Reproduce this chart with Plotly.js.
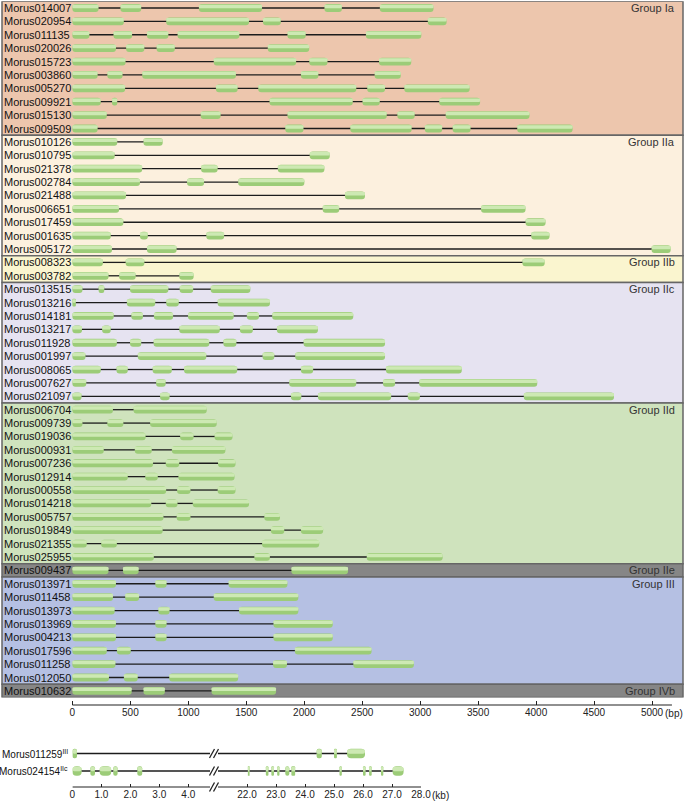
<!DOCTYPE html>
<html><head><meta charset="utf-8">
<script src="https://cdn.plot.ly/plotly-3.0.1.min.js"></script>
<style>html,body{margin:0;padding:0;background:#fff;}#chart{width:685px;height:803px;}</style>
</head><body><div id="chart"></div>
<script>
// ---------- DATA ----------
const geneNames = [
 "Morus014007","Morus020954","Morus011135","Morus020026","Morus015723","Morus003860","Morus005270","Morus009921","Morus015130","Morus009509",
 "Morus010126","Morus010795","Morus021378","Morus002784","Morus021488","Morus006651","Morus017459","Morus001635","Morus005172",
 "Morus008323","Morus003782",
 "Morus013515","Morus013216","Morus014181","Morus013217","Morus011928","Morus001997","Morus008065","Morus007627","Morus021097",
 "Morus006704","Morus009739","Morus019036","Morus000931","Morus007236","Morus012914","Morus000558","Morus014218","Morus005757","Morus019849","Morus021355","Morus025955",
 "Morus009437",
 "Morus013971","Morus011458","Morus013973","Morus013969","Morus004213","Morus017596","Morus011258","Morus012050",
 "Morus010632"
];
const groupNames = ["Group Ia","Group IIa","Group IIb","Group IIc","Group IId","Group IIe","Group III","Group IVb"];
const groupSizes = [10,9,2,9,12,1,8,1];
// exon [start, end] in bp for each gene (introns join them)
const exons = [
 [[0,226],[414,594],[1091,1636],[2174,2325],[2652,3115]],
 [[0,444],[809,1524],[1644,1798],[3066,3228]],
 [[0,147],[354,515],[643,828],[907,1441],[1855,2013],[2532,3010]],
 [[0,376],[463,621],[726,884],[1685,2043]],
 [[0,459],[1219,1930],[2043,2201],[2645,2923]],
 [[0,218],[301,433],[602,1411],[1971,2122],[2607,2833]],
 [[0,455],[1238,1426],[1603,2449],[2543,2697],[2863,3427]],
 [[0,245],[342,387],[1700,2419],[2502,2652],[3164,3517]],
 [[0,297],[1106,1279],[1855,2712],[2803,2953],[3220,3943]],
 [[0,218],[1836,1994],[2397,2927],[3040,3190],[3280,3435],[3837,4315]],
 [[0,387],[613,779]],
 [[0,365],[2047,2220]],
 [[0,602],[1110,1253],[1772,2174]],
 [[0,583],[989,1136],[1430,2001]],
 [[0,463],[2351,2524]],
 [[0,403],[2159,2302],[3525,3909]],
 [[0,440],[3909,4082]],
 [[0,331],[583,651],[1155,1309],[3958,4116]],
 [[0,342],[643,899],[4996,5161]],
 [[0,263],[459,621],[3882,4074]],
 [[0,312],[403,546],[922,1046]],
 [[0,87],[226,275],[497,828],[925,1042],[1193,1535]],
 [[0,30],[470,715],[809,918],[1253,1704]],
 [[0,357],[508,609],[703,869],[997,1392],[1505,1610],[1723,2423]],
 [[0,83],[256,331],[922,1272],[1445,1557],[1764,2118]],
 [[0,384],[497,594],[700,1181],[1302,1415],[1994,2697]],
 [[0,113],[564,1155],[1640,1742],[1922,2697]],
 [[0,245],[380,478],[692,858],[963,1422],[1971,2077],[2705,3359]],
 [[0,120],[722,805],[1870,2449],[2679,2784],[2991,4010]],
 [[0,79],[756,839],[1885,1975],[2118,2750],[2893,2998],[3894,4672]],
 [[0,350],[527,1159]],
 [[0,87],[301,440],[670,1245]],
 [[0,632],[929,1046],[1226,1381]],
 [[0,271],[538,685],[858,1320]],
 [[0,696],[805,922],[1256,1407]],
 [[0,478],[628,737],[914,1399]],
 [[0,809],[903,1019],[1253,1407]],
 [[0,681],[805,907],[1038,1524]],
 [[0,786],[899,1019],[1655,1791]],
 [[0,779],[1712,1828],[1971,2163]],
 [[0,124],[248,384],[1636,2129]],
 [[0,703],[1569,1704],[2539,3194]],
 [[0,312],[436,572],[1889,2378]],
 [[0,376],[715,813],[1347,1855]],
 [[0,350],[455,576],[1219,1949]],
 [[0,365],[741,839],[1437,1949]],
 [[0,376],[715,813],[1734,2246]],
 [[0,376],[715,813],[1734,2246]],
 [[0,297],[384,504],[1919,2581]],
 [[0,372],[1731,1851],[2423,2946]],
 [[0,316],[444,564],[835,1430]],
 [[0,512],[613,798],[1200,1757]]
];
const bpTicks = [0,500,1000,1500,2000,2500,3000,3500,4000,4500,5000];
const bpTickLabels = ["0","500","1000","1500","2000","2500","3000","3500","4000","4500","5000"];

// long genes (kb), drawn with a broken axis
const longGenes = ["Morus011259<sup>III</sup>","Morus024154<sup>IIc</sup>"];
const longExonsLeft = [
 [[0,0.16]],
 [[0,0.32],[0.62,0.78],[0.94,1.34],[1.41,1.56],[2.24,2.41]]
];
const longExonsRight = [
 [[24.40,24.58],[25.00,25.10],[25.45,26.07]],
 [[22.03,22.09],[22.65,22.74],[22.84,22.93],[23.04,23.12],[23.32,23.46],[23.53,23.66],[25.19,25.27],[26.00,26.09],[26.21,26.30],[26.62,26.70],[27.02,27.40]]
];
const kbTicksLeft = [0,1,2,3,4];
const kbTickLabelsLeft = ["0","1.0","2.0","3.0","4.0"];
const kbTicksRight = [22,23,24,25,26,27,28];
const kbTickLabelsRight = ["22.0","23.0","24.0","25.0","26.0","27.0","28.0"];

// ---------- STYLE ----------
const W = 685, H = 803;
const FONT = "Liberation Sans, Arial, Helvetica, sans-serif";
const groupFill = ["#edc6ad","#fcf0de","#faf5cf","#e6e3f1","#cfe3bd","#868686","#b5c0e3","#868686"];
const exonBase = "#9ccc78", exonHi = "#cde9b3", intronColor = "#1c1c1c";
const px = p => p / W;
const py = p => 1 - p / H;

// main panel geometry
const rowTop = 1.3, rowPitch = 13.39, nRows = geneNames.length;
const mainLeft = 2, mainRight = 683, zeroPx = 72.4, fivePx = 652;
const bpPerPx = 5000 / (fivePx - zeroPx);
const xMin = -(zeroPx - mainLeft) * bpPerPx, xMax = 5000 + (mainRight - fivePx) * bpPerPx;

const traces = [];
// introns: segments between consecutive exons
function intronTrace(list, xa, ya) {
  const x = [], y = [];
  list.forEach((ex, i) => { for (let k = 0; k + 1 < ex.length; k++) { x.push(ex[k][1], ex[k+1][0], null); y.push(i, i, null); } });
  return {type:'scatter', mode:'lines', x:x, y:y, line:{color:intronColor, width:1.3}, hoverinfo:'skip', xaxis:xa, yaxis:ya};
}
traces.push(intronTrace(exons, 'x', 'y'));
// exons
function exonBars(list, xa, ya, w, r) {
  const y = [], b = [], l = [];
  list.forEach((ex, i) => ex.forEach(e => { y.push(i); b.push(e[0]); l.push(e[1]-e[0]); }));
  traces.push({type:'bar', orientation:'h', y:y, base:b, x:l, width:w, offset:-w/2,
    marker:{color:exonBase, line:{width:0}, cornerradius:r}, xaxis:xa, yaxis:ya});
  traces.push({type:'bar', orientation:'h', y:y, base:b, x:l, width:w*0.45, offset:-w/2 + w*0.07,
    marker:{color:exonHi, line:{width:0}, cornerradius:Math.max(1, r-1)}, xaxis:xa, yaxis:ya});
}
exonBars(exons, 'x', 'y', 0.58, 3);

// long genes panel: the intron line runs to / from the axis break
const lx = [], ly = [], rx = [], ry = [];
longExonsLeft.forEach((ex, i) => { lx.push(ex[ex.length-1][1], 4.75, null); ly.push(i, i, null); });
longExonsRight.forEach((ex, i) => { rx.push(21, ex[0][0], null); ry.push(i, i, null); });
traces.push(intronTrace(longExonsLeft, 'x3', 'y3'));
traces.push(intronTrace(longExonsRight, 'x4', 'y4'));
traces.push({type:'scatter', mode:'lines', x:lx, y:ly, line:{color:intronColor, width:1.3}, xaxis:'x3', yaxis:'y3'});
traces.push({type:'scatter', mode:'lines', x:rx, y:ry, line:{color:intronColor, width:1.3}, xaxis:'x4', yaxis:'y4'});
exonBars(longExonsLeft, 'x3', 'y3', 0.55, 5);
exonBars(longExonsRight, 'x4', 'y4', 0.55, 5);

// shapes: group backgrounds
const shapes = [];
let start = 0;
const groupStarts = [];
groupSizes.forEach((n, g) => {
  groupStarts.push(start);
  shapes.push({type:'rect', layer:'below', xref:'paper', yref:'y', x0:px(mainLeft), x1:px(mainRight),
    y0:start-0.5, y1:start+n-0.5, fillcolor:groupFill[g], line:{color:'#666666', width:1.5}});
  start += n;
});
// axis lines
const axY = 705, kbAxY = 787;
shapes.push({type:'line', xref:'x', yref:'paper', x0:0, x1:5172, y0:py(axY), y1:py(axY), line:{color:'#222', width:1.2}});
shapes.push({type:'line', xref:'x3', yref:'paper', x0:0, x1:4.75, y0:py(kbAxY), y1:py(kbAxY), line:{color:'#222', width:1.2}});
shapes.push({type:'line', xref:'x4', yref:'paper', x0:21, x1:28, y0:py(kbAxY), y1:py(kbAxY), line:{color:'#222', width:1.2}});
// break marks "//"
[753.5, 771, kbAxY].forEach(yy => {
  [-2, 2].forEach(d => shapes.push({type:'line', xref:'paper', yref:'paper',
    x0:px(214 + d - 2.5), x1:px(214 + d + 2.5), y0:py(yy + 4.5), y1:py(yy - 4.5), line:{color:'#222', width:1.3}}));
});

// annotations
const ann = [];
geneNames.forEach((n, i) => ann.push({xref:'paper', yref:'y', x:px(1.5), y:i, xanchor:'left', yanchor:'middle',
  text:n, showarrow:false, font:{family:FONT, size:11, color:'#111'}}));
groupNames.forEach((n, g) => ann.push({xref:'paper', yref:'y', x:px(677), y:groupStarts[g], xanchor:'right', yanchor:'middle',
  text:n, showarrow:false, font:{family:FONT, size:11, color:'#333'}}));
ann.push({xref:'x', yref:'paper', x:5000, y:py(713), xanchor:'left', yanchor:'middle', xshift:11, text:'(bp)', showarrow:false,
  font:{family:FONT, size:10, color:'#222'}});
longGenes.forEach((n, i) => ann.push({xref:'paper', yref:'y3', x:px(70), y:i, xanchor:'right', yanchor:'middle',
  text:n, showarrow:false, font:{family:FONT, size:10, color:'#111'}}));
ann.push({xref:'x4', yref:'paper', x:28, y:py(795), xanchor:'left', yanchor:'middle', xshift:9, text:'(kb)', showarrow:false,
  font:{family:FONT, size:10, color:'#222'}});

const hidden = {showgrid:false, zeroline:false, showline:false, showticklabels:false, ticks:'', fixedrange:true};
const tickStyle = {showgrid:false, zeroline:false, showline:false, ticks:'inside', ticklen:4, tickwidth:1, tickcolor:'#222',
  tickfont:{family:FONT, size:10, color:'#222'}, fixedrange:true, tickmode:'array'};

const layout = {
  width:W, height:H, margin:{l:0, r:0, t:0, b:0}, paper_bgcolor:'#fff', plot_bgcolor:'rgba(0,0,0,0)',
  showlegend:false, barmode:'overlay', hovermode:false,
  xaxis:Object.assign({}, tickStyle, {domain:[px(mainLeft), px(mainRight)], range:[xMin, xMax], anchor:'free', position:py(axY),
    tickvals:bpTicks, ticktext:bpTickLabels}),
  yaxis:Object.assign({}, hidden, {domain:[py(rowTop + nRows*rowPitch), py(rowTop)], range:[nRows-0.5, -0.5], anchor:'x'}),
  xaxis3:Object.assign({}, tickStyle, {domain:[px(zeroPx), px(210)], range:[0, 4.75], anchor:'free', position:py(kbAxY),
    tickvals:kbTicksLeft, ticktext:kbTickLabelsLeft, ticklen:3}),
  yaxis3:Object.assign({}, hidden, {domain:[py(779.75), py(744.75)], range:[1.5, -0.5], anchor:'x3'}),
  xaxis4:Object.assign({}, tickStyle, {domain:[px(218), px(421)], range:[21, 28], anchor:'free', position:py(kbAxY),
    tickvals:kbTicksRight, ticktext:kbTickLabelsRight, ticklen:3}),
  yaxis4:Object.assign({}, hidden, {domain:[py(779.75), py(744.75)], range:[1.5, -0.5], anchor:'x4'}),
  shapes:shapes, annotations:ann
};
Plotly.newPlot('chart', traces, layout, {displayModeBar:false, staticPlot:true});
</script></body></html>
